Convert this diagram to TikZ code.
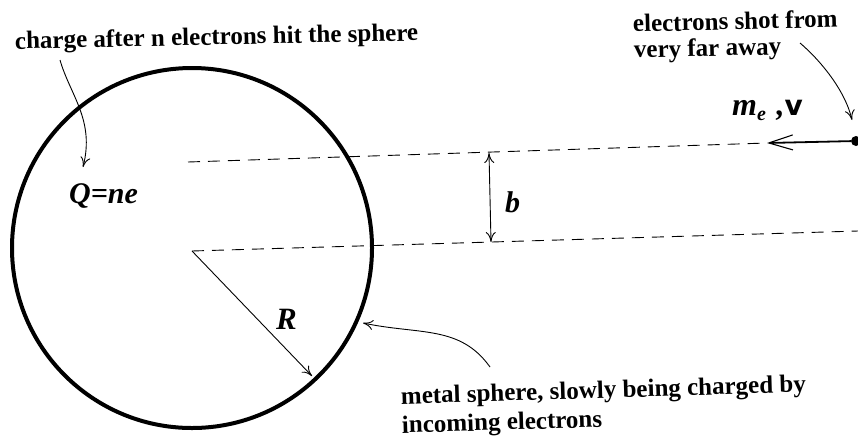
\documentclass[tikz,border=0pt]{standalone}
\usepackage{fontspec}
\newfontfamily\tfam{Liberation Serif}
\newfontfamily\sfam{DejaVu Sans}
\newcommand\txtfont{\fontsize{25}{28}\selectfont\tfam\bfseries}
\newcommand\mfont[1]{\fontsize{#1}{#1}\selectfont\tfam\bfseries\itshape}
\usetikzlibrary{arrows.meta}
\tikzset{
  lbl/.style={inner sep=0pt, anchor=base west},
  note/.style={line width=0.9pt, -{Computer Modern Rightarrow[length=10pt,width=10pt]}},
  dbl/.style={line width=0.9pt, {Computer Modern Rightarrow[length=10pt,width=10pt]}-{Computer Modern Rightarrow[length=10pt,width=10pt]}},
  guide/.style={line width=0.9pt, dash pattern=on 12pt off 8pt},
  sphereline/.style={draw, circle, line width=4pt, minimum size=360pt, inner sep=0pt}
}
\begin{document}
\begin{tikzpicture}[x=1pt,y=-1pt]
\useasboundingbox (0,0) rectangle (858,440);
\fill[white] (0,0) rectangle (858,440);
% sphere
\node[sphereline] (sphere) at (192,248) {};
% radius
\coordinate (ctr) at (192,251);
\coordinate (rend) at (312,376);
\draw[note] (ctr) -- (rend);
\node[lbl] (Rlbl) at (276,329) {\mfont{31}R};
% trajectories
\coordinate (t1) at (188,162);
\coordinate (tip) at (767,143);
\coordinate (b2r) at (858,231);
\draw[guide] (t1) -- (tip);
\draw[guide] (ctr) -- (b2r);
% electron
\node[circle, fill, minimum size=10pt, inner sep=0pt] (el) at (856,141) {};
\draw[line width=1.8pt, -{Straight Barb[length=24pt,width=15pt,line width=1.1pt]}] (el) -- (tip);
\node[lbl] (mv) at (732,115) {\mfont{32}m\raisebox{-5pt}{\fontsize{20}{20}\selectfont e}\,\,,{\fontsize{28}{28}\selectfont\sfam\upshape\bfseries v}};
% impact parameter
\coordinate (bt) at (489,153);
\coordinate (bb) at (491,242);
\draw[dbl] (bt) -- (bb);
\node[lbl] (blbl) at (505,212) {\mfont{30}b};
% charge
\node[lbl] (Qlbl) at (69,203) {\mfont{30}Q=ne};
% texts
\node[lbl, rotate=1.2] (chg) at (15,49) {\txtfont charge after n electrons hit the sphere};
\node[lbl, rotate=1.4] (shot1) at (633,32) {\txtfont electrons shot from};
\node[lbl, rotate=1.4] (shot2) at (634,58) {\txtfont very far away};
\node[lbl, rotate=1.7] (met1) at (401,404) {\txtfont metal sphere, slowly being charged by};
\node[lbl, rotate=1.7] (met2) at (402,433) {\txtfont incoming electrons};
% annotation arrows
\coordinate (c1s) at (60,60);
\coordinate (c1e) at (83,167);
\draw[note] (c1s) .. controls (70,95) and (95,120) .. (c1e);
\coordinate (c2s) at (800,43);
\coordinate (c2e) at (852,120);
\draw[note] (c2s) .. controls (820,60) and (845,90) .. (c2e);
\coordinate (c3s) at (490,367);
\coordinate (c3e) at (363,323);
\draw[note] (c3s) .. controls (460,325) and (420,335) .. (c3e);
\end{tikzpicture}
\end{document}
